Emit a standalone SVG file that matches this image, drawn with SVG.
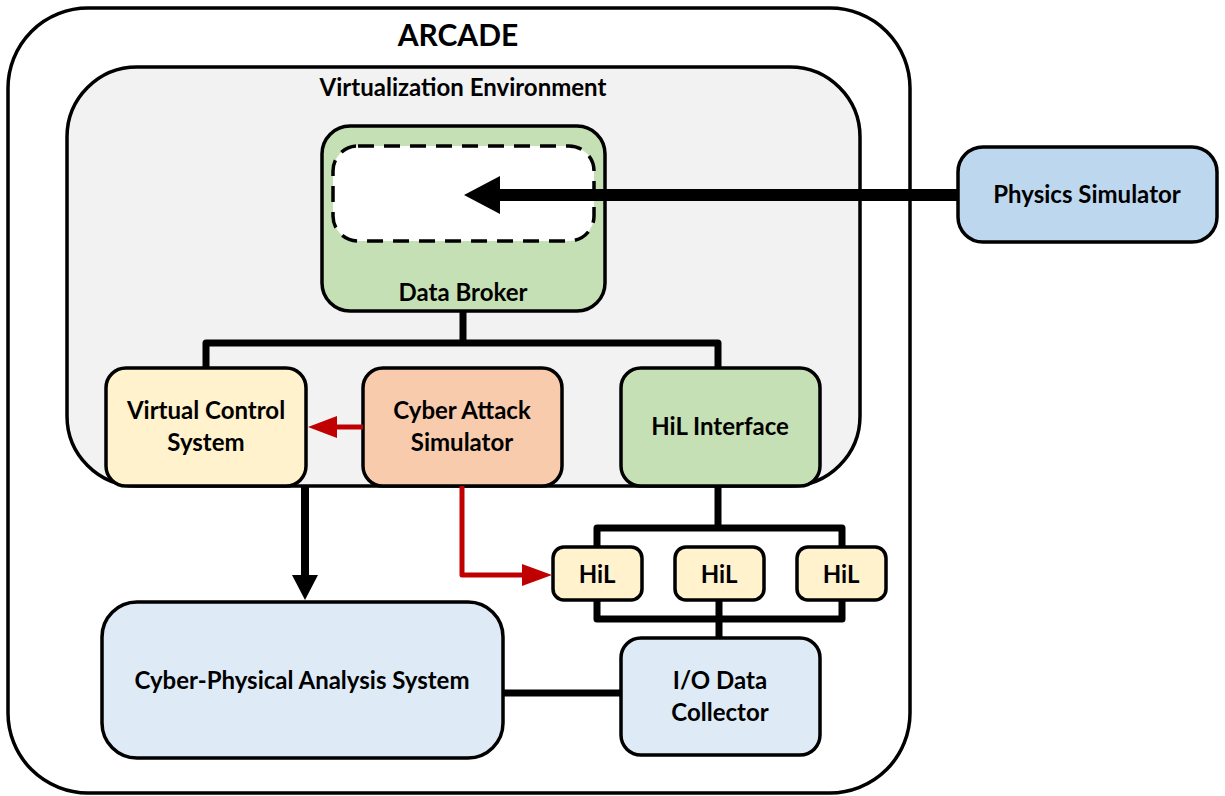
<svg xmlns="http://www.w3.org/2000/svg" width="1225" height="796" viewBox="0 0 1225 796">
<style>
.box{stroke:#000;stroke-width:3.5}
.t{font-family:Lato,"Open Sans","Liberation Sans",sans-serif;font-weight:bold;fill:#000;text-anchor:middle}
.n{font-size:24px}
.ln{fill:none;stroke:#000;stroke-width:7;stroke-linejoin:round}
.red{fill:none;stroke:#c00000;stroke-width:5;stroke-linejoin:round}
</style>
<rect width="1225" height="796" fill="#fff"/>
<g id="arcade">
<rect class="box" x="8" y="8" width="902" height="785" rx="80" fill="#fff"/>
<text class="t" x="458" y="46" font-size="30">ARCADE</text>
</g>
<g id="virtualization-environment">
<rect class="box" x="67" y="67" width="793" height="419" rx="70" fill="#f2f2f2"/>
<text class="t" x="463" y="96" font-size="24">Virtualization Environment</text>
</g>
<g id="data-broker">
<rect class="box" x="322" y="126" width="283" height="185" rx="28" fill="#c5e0b4"/>
<rect x="333" y="146" width="261" height="95" rx="25" fill="#fff" stroke="#000" stroke-width="3.5" stroke-dasharray="16,10"/>
<text class="t n" x="463" y="301">Data Broker</text>
</g>
<g id="physics-simulator">
<rect class="box" x="958" y="147" width="259" height="95" rx="25" fill="#bdd7ee"/>
<text class="t n" x="1087" y="203">Physics Simulator</text>
</g>
<g id="virtual-control-system">
<rect class="box" x="106" y="368" width="200" height="118" rx="20" fill="#fff2cc"/>
<text class="t n" x="206" y="419">Virtual Control</text>
<text class="t n" x="206" y="451">System</text>
</g>
<g id="cyber-attack-simulator">
<rect class="box" x="363" y="368" width="199" height="118" rx="20" fill="#f8cbad"/>
<text class="t n" x="462" y="419">Cyber Attack</text>
<text class="t n" x="462" y="451">Simulator</text>
</g>
<g id="hil-interface">
<rect class="box" x="621" y="368" width="199" height="118" rx="20" fill="#c5e0b4"/>
<text class="t n" x="720" y="435">HiL Interface</text>
</g>
<g id="hil-1">
<rect class="box" x="553" y="547" width="89" height="53" rx="11" fill="#fff2cc"/>
<text class="t n" x="597" y="583">HiL</text>
</g>
<g id="hil-2">
<rect class="box" x="675" y="547" width="89" height="53" rx="11" fill="#fff2cc"/>
<text class="t n" x="719" y="583">HiL</text>
</g>
<g id="hil-3">
<rect class="box" x="797" y="547" width="89" height="53" rx="11" fill="#fff2cc"/>
<text class="t n" x="841" y="583">HiL</text>
</g>
<g id="cyber-physical-analysis-system">
<rect class="box" x="102" y="602" width="401" height="156" rx="35" fill="#deebf7"/>
<text class="t n" x="302" y="689">Cyber-Physical Analysis System</text>
</g>
<g id="io-data-collector">
<rect class="box" x="621" y="638" width="199" height="117" rx="20" fill="#deebf7"/>
<text class="t n" x="720" y="689">I/O Data</text>
<text class="t n" x="720" y="721">Collector</text>
</g>
<g id="connectors">
<path class="ln" d="M463 311 V343 M206 368 V343 H718 V368"/>
<path class="ln" d="M718 486 V528 M597 547 V528 H842 V547 M597 600 V619 H842 V600 M719 600 V638"/>
<path class="ln" d="M503 693 H621"/>
<path d="M958 189 H500 V176 L464 195 L500 214 V201 H958 Z" fill="#000"/>
<path d="M301 486 V575 H292 L305 600 L318 575 H309 V486 Z" fill="#000"/>
<path class="red" d="M363 427 H334"/>
<path d="M337 416 L308 427 L337 438 Z" fill="#c00000"/>
<path class="red" d="M462 486 V575 H525"/>
<path d="M522 564 L552 575 L522 586 Z" fill="#c00000"/>
</g>
</svg>
